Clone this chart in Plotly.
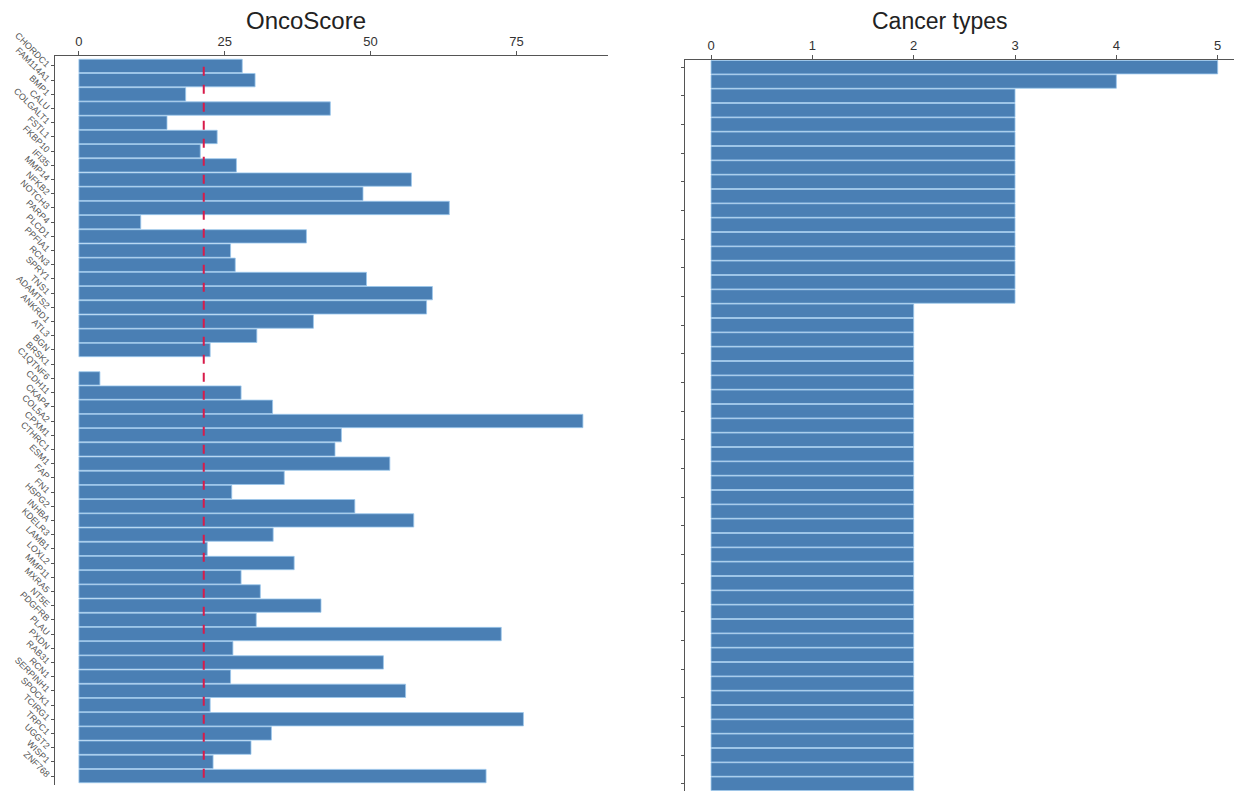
import plotly.graph_objects as go

genes = ["CHORDC1", "FAM114A1", "BMP1", "CALU", "COLGALT1", "FSTL1", "FKBP10", "IFI35",
         "MMP14", "NFKB2", "NOTCH3", "PARP4", "PLCD1", "PPFIA1", "RCN3", "SPRY1", "TNS1",
         "ADAMTS2", "ANKRD1", "ATL3", "BGN", "BRSK1", "C1QTNF6", "CDH11", "CKAP4", "COL5A2",
         "CPXM1", "CTHRC1", "ESM1", "FAP", "FN1", "HSPG2", "INHBA", "KDELR3", "LAMB1",
         "LOXL2", "MMP11", "MXRA5", "NT5E", "PDGFRB", "PLAU", "PXDN", "RAB31", "RCN1",
         "SERPINH1", "SPOCK1", "TCIRG1", "TRPC1", "UGGT2", "WISP1", "ZNF768"]

oncoscore = [28.0, 30.2, 18.3, 43.1, 15.1, 23.7, 20.8, 27.0, 57.0, 48.7, 63.5, 10.6, 39.0,
             26.0, 26.8, 49.3, 60.6, 59.6, 40.2, 30.5, 22.5, 0.0, 3.6, 27.8, 33.2, 86.4,
             45.0, 43.9, 53.3, 35.2, 26.2, 47.3, 57.4, 33.3, 22.0, 36.9, 27.8, 31.1, 41.5,
             30.4, 72.4, 26.4, 52.2, 26.0, 56.0, 22.5, 76.2, 33.0, 29.5, 23.0, 69.8]

cancer_types = [5, 4] + [3] * 15 + [2] * 34

threshold = 21.4

bar_color = "#4a7fb4"
edge_color = "#9cc8ec"

edge_widths = [0 if v == 0 else 0.8 for v in oncoscore]

fig = go.Figure()
fig.add_trace(go.Bar(x=oncoscore, y=genes, orientation="h", xaxis="x", yaxis="y",
                     marker=dict(color=bar_color, line=dict(color=edge_color, width=edge_widths)),
                     showlegend=False))
fig.add_trace(go.Bar(x=cancer_types, y=genes, orientation="h", xaxis="x2", yaxis="y2",
                     marker=dict(color=bar_color, line=dict(color=edge_color, width=0.8)),
                     showlegend=False))

W, H = 1242, 791
OFF = 8  # page body margin offset
FONT = "Liberation Sans, Arial, sans-serif"
axis_common = dict(showgrid=False, zeroline=False, showline=True, linecolor="#555",
                   linewidth=1, ticks="outside", ticklen=4, tickcolor="#555",
                   automargin=False,
                   tickfont=dict(family=FONT, size=13, color="#333"))


def px_x(p):
    return (p - OFF) / W


def px_y(p):
    return 1 - (p - OFF) / H


fig.update_layout(
    width=W, height=H,
    margin=dict(l=0, r=0, t=0, b=0, autoexpand=False),
    plot_bgcolor="white", paper_bgcolor="white",
    bargap=0.06,
    xaxis=dict(domain=[px_x(55), px_x(608)], range=[-4.1, 90.7], side="top", anchor="y",
               tickvals=[0, 25, 50, 75], **axis_common),
    yaxis=dict(domain=[px_y(785), px_y(56)], range=[50.63, -0.7], anchor="x",
               type="category", tickangle=45,
               **{**axis_common, "tickfont": dict(family=FONT, size=9, color="#555"),
                  "ticklen": 3}),
    xaxis2=dict(domain=[px_x(685), px_x(1242)], range=[-0.257, 5.24], side="top", anchor="y2",
                tickvals=[0, 1, 2, 3, 4, 5], **axis_common),
    yaxis2=dict(domain=[px_y(791), px_y(60)], range=[50.5, -0.5], anchor="x2",
                type="category", showticklabels=False,
                **{**axis_common, "ticklen": 3}),
    font=dict(family=FONT),
)

fig.add_shape(type="line", xref="x", yref="y domain", x0=threshold, x1=threshold,
              y0=0.01, y1=0.995, line=dict(color="#d81b4a", width=2, dash="dash"))

fig.add_annotation(text="OncoScore", xref="paper", yref="paper", x=px_x(306),
                   y=px_y(21), showarrow=False, xanchor="center", yanchor="middle",
                   font=dict(size=24, color="#222", family=FONT))
fig.add_annotation(text="Cancer types", xref="paper", yref="paper", x=px_x(940),
                   y=px_y(21), showarrow=False, xanchor="center", yanchor="middle",
                   font=dict(size=23, color="#222", family=FONT))

fig.write_html("out.html")
